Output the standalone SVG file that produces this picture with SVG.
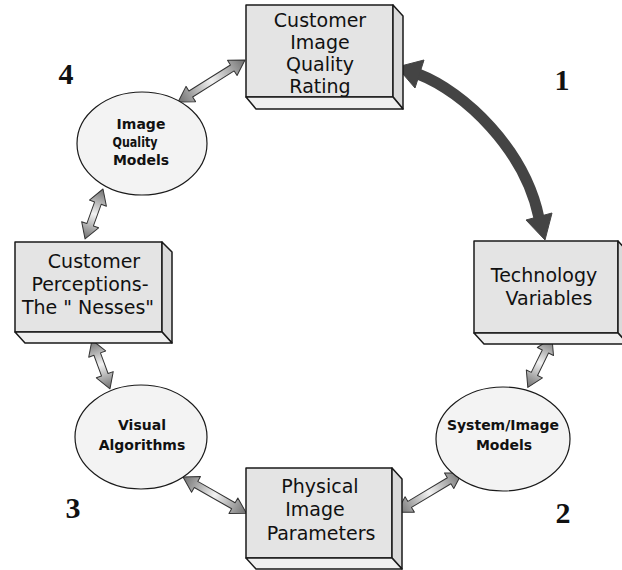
<svg xmlns="http://www.w3.org/2000/svg" width="622" height="570" viewBox="0 0 622 570">
<defs>
<linearGradient id="ag" x1="0" y1="0" x2="1" y2="0">
<stop offset="0" stop-color="#6e6e6e"/>
<stop offset="0.5" stop-color="#f2f2f2"/>
<stop offset="1" stop-color="#6e6e6e"/>
</linearGradient>
<style>
.front{fill:#e4e4e4;stroke:#1a1a1a;stroke-width:1.5;stroke-linejoin:round}
.side{fill:#dadada;stroke:#1a1a1a;stroke-width:1.5;stroke-linejoin:round}
.bot{fill:#efefef;stroke:#1a1a1a;stroke-width:1.5;stroke-linejoin:round}
.ell{fill:#f3f3f3;stroke:#1a1a1a;stroke-width:1.2}
.bt{font-family:"DejaVu Sans","Liberation Sans",sans-serif;font-size:19px;fill:#111;text-anchor:middle}
.et{font-family:"DejaVu Sans","Liberation Sans",sans-serif;font-size:14px;font-weight:bold;fill:#111;text-anchor:middle}
.num{font-family:"Liberation Serif","DejaVu Serif",serif;font-size:30px;font-weight:bold;fill:#111;text-anchor:middle}
.arr{fill:url(#ag);stroke:#333;stroke-width:1;stroke-linejoin:round}
.big{fill:#444;stroke:#444}
</style>
</defs>

<g id="connectors">
<path class="arr" transform="translate(245,60) rotate(147.9)" d="M0,0 L15,-9 L15,-3.5 L64,-3.5 L64,-9 L79,0 L64,9 L64,3.5 L15,3.5 L15,9 Z"/>
<path class="arr" transform="translate(103,189) rotate(109.8)" d="M0,0 L15,-9 L15,-3.5 L38,-3.5 L38,-9 L53,0 L38,9 L38,3.5 L15,3.5 L15,9 Z"/>
<path class="arr" transform="translate(92,340) rotate(69.8)" d="M0,0 L15,-9 L15,-3.5 L37,-3.5 L37,-9 L52,0 L37,9 L37,3.5 L15,3.5 L15,9 Z"/>
<path class="arr" transform="translate(183,477) rotate(29.7)" d="M0,0 L15,-9 L15,-3.5 L58,-3.5 L58,-9 L73,0 L58,9 L58,3.5 L15,3.5 L15,9 Z"/>
<path class="arr" transform="translate(462,473) rotate(149)" d="M0,0 L15,-9 L15,-3.5 L61,-3.5 L61,-9 L76,0 L61,9 L61,3.5 L15,3.5 L15,9 Z"/>
<path class="arr" transform="translate(552,338) rotate(116.1)" d="M0,0 L15,-9 L15,-3.5 L40,-3.5 L40,-9 L55,0 L40,9 L40,3.5 L15,3.5 L15,9 Z"/>
<g id="big-arrow">
<path d="M418,74 C465,92 525,150 539,218" fill="none" stroke="#444" stroke-width="11"/>
<polygon class="big" points="397,67 424,60 415,88"/>
<polygon class="big" points="545,240 526,220 552,213"/>
</g>
</g>

<g id="box-rating">
<rect class="front" x="246" y="5" width="147" height="92"/>
<polygon class="side" points="393,5 403,16 403,109 393,97"/>
<polygon class="bot" points="246,97 393,97 403,109 256,109"/>
<text class="bt" x="320" y="27">Customer</text>
<text class="bt" x="320" y="49">Image</text>
<text class="bt" x="320" y="71">Quality</text>
<text class="bt" x="320" y="93">Rating</text>
</g>

<g id="box-tech">
<rect class="front" x="474" y="241" width="144" height="92"/>
<polygon class="side" points="618,241 628,252 628,344 618,333"/>
<polygon class="bot" points="474,333 618,333 628,344 484,344"/>
<text class="bt" x="544" y="282">Technology</text>
<text class="bt" x="549" y="305">Variables</text>
</g>

<g id="box-perceptions">
<rect class="front" x="15" y="242" width="147" height="90"/>
<polygon class="side" points="162,242 172,252 172,343 162,332"/>
<polygon class="bot" points="15,332 162,332 172,343 25,343"/>
<text class="bt" x="94" y="268">Customer</text>
<text class="bt" x="90" y="291">Perceptions-</text>
<text class="bt" x="88" y="314">The " Nesses"</text>
</g>

<g id="box-physical">
<rect class="front" x="246" y="468" width="146" height="90"/>
<polygon class="side" points="392,468 402,479 402,569 392,558"/>
<polygon class="bot" points="246,558 392,558 402,569 256,569"/>
<text class="bt" x="320" y="493">Physical</text>
<text class="bt" x="315" y="516">Image</text>
<text class="bt" x="321" y="540">Parameters</text>
</g>

<g id="ell-iqm">
<ellipse class="ell" cx="142" cy="143.5" rx="65" ry="51.5"/>
<text class="et" x="141" y="129">Image</text>
<text class="et" x="135" y="147" font-size="13" textLength="45" lengthAdjust="spacingAndGlyphs">Quality</text>
<text class="et" x="141" y="165">Models</text>
</g>

<g id="ell-visual">
<ellipse class="ell" cx="141" cy="437" rx="66" ry="52"/>
<text class="et" x="142" y="430">Visual</text>
<text class="et" x="142" y="450">Algorithms</text>
</g>

<g id="ell-system">
<ellipse class="ell" cx="503" cy="439" rx="67" ry="52"/>
<text class="et" x="503" y="430">System/Image</text>
<text class="et" x="504" y="450">Models</text>
</g>

<g id="labels">
<text class="num" x="562" y="90">1</text>
<text class="num" x="563" y="523">2</text>
<text class="num" x="73" y="518">3</text>
<text class="num" x="66" y="84">4</text>
</g>
</svg>
